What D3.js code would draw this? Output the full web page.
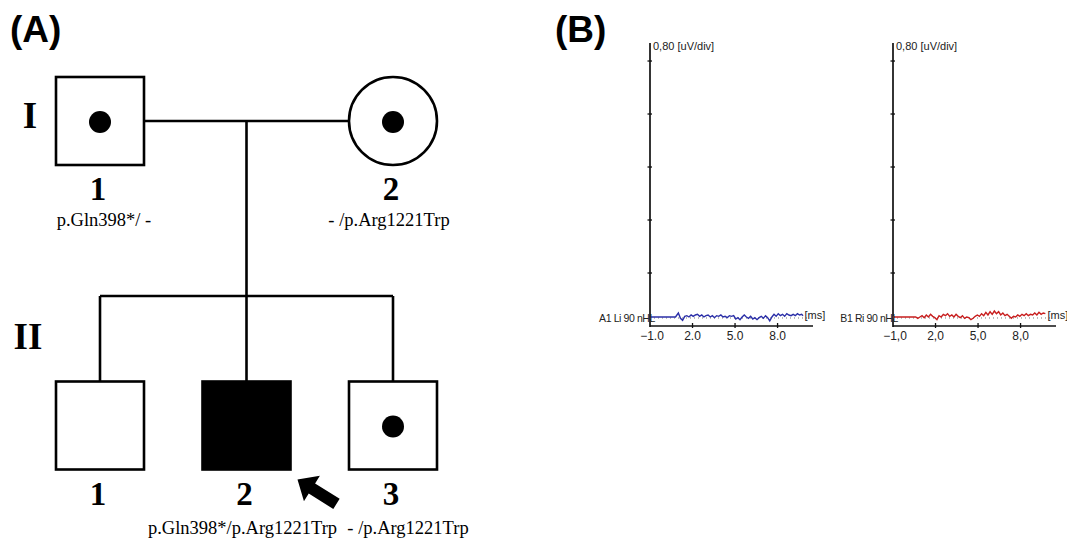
<!DOCTYPE html>
<html>
<head>
<meta charset="utf-8">
<script src="https://cdn.jsdelivr.net/npm/d3@7/dist/d3.min.js"></script>
<style>
  body { margin: 0; background: #fff; }
  svg { display: block; }
  .panel { font-family: "Liberation Sans", Arial, sans-serif; font-weight: bold; font-size: 37px; }
  .roman, .num { font-family: "Liberation Serif", "Times New Roman", serif; font-weight: bold; }
  .geno { font-family: "Liberation Serif", "Times New Roman", serif; font-size: 18.5px; }
  .abr { font-family: "Liberation Sans", Arial, sans-serif; font-size: 11px; fill: #222; }
  .abr.tk { font-size: 12px; }
  .abr.lb { font-size: 10.5px; letter-spacing: -0.4px; }
</style>
</head>
<body>
<div id="chart"></div>
<script>
// ---- pedigree (A) ----
const generations = ["I", "II"];
const personGen   = [0, 0, 1, 1, 1];
const personSlot  = [0, 2, 0, 1, 2];
const personSex   = ["M", "F", "M", "M", "M"];
const personState = ["carrier", "carrier", "normal", "affected", "carrier"];
const personNum   = ["1", "2", "1", "2", "3"];
const personGeno  = ["p.Gln398*/ -", "- /p.Arg1221Trp", "", "p.Gln398*/p.Arg1221Trp", "- /p.Arg1221Trp"];
const proband = 3;

// ---- ABR traces (B) ----
const uvPerDiv = 0.80;
const yTicks = [0.8, 1.6, 2.4, 3.2, 4.0];
const xTicks = [-1, 2, 5, 8];
const traceOffset = 0.136;

const leftLabel = "A1 Li 90 nHL";
const leftTime = [-1.0, 0.8, 1.0, 1.15, 1.3, 1.45, 1.6, 1.75, 1.9, 2.05, 2.2, 2.35, 2.5, 2.65, 2.8, 2.95,
  3.1, 3.25, 3.4, 3.55, 3.7, 3.85, 4.0, 4.15, 4.3, 4.45, 4.6, 4.75, 4.9, 5.05, 5.2, 5.35, 5.5, 5.65,
  5.8, 5.95, 6.1, 6.25, 6.4, 6.55, 6.7, 6.85, 7.0, 7.15, 7.3, 7.45, 7.6, 7.75, 7.9, 8.05, 8.2, 8.35,
  8.5, 8.65, 8.8, 8.95, 9.1, 9.25, 9.4, 9.55, 9.7, 9.8];
const leftUv = [0, 0, 0.06, -0.02, -0.05, 0.01, 0.02, 0.0, 0.03, 0.01, 0.03, 0.04, 0.01, 0.03, 0.0, 0.02,
  0.03, 0.0, 0.02, -0.01, 0.02, 0.01, 0.03, 0.0, 0.01, -0.01, 0.02, 0.01, 0.02, -0.03, -0.01, -0.04, 0.0, 0.03,
  0.0, -0.02, 0.01, -0.03, -0.01, -0.04, -0.01, 0.01, -0.02, 0.02, -0.01, -0.06, 0.0, 0.04, 0.01, 0.05, 0.02, 0.04,
  0.01, 0.05, 0.03, 0.02, 0.04, 0.02, 0.05, 0.03, 0.04, 0.02];

const rightLabel = "B1 Ri 90 nHL";
const rightTime = [-1.0, 0.6, 0.75, 0.9, 1.05, 1.2, 1.35, 1.5, 1.65, 1.8, 1.95, 2.1, 2.25, 2.4, 2.55, 2.7,
  2.85, 3.0, 3.15, 3.3, 3.45, 3.6, 3.75, 3.9, 4.05, 4.2, 4.35, 4.5, 4.65, 4.8, 4.95, 5.1, 5.25, 5.4,
  5.55, 5.7, 5.85, 6.0, 6.15, 6.3, 6.45, 6.6, 6.75, 6.9, 7.05, 7.2, 7.35, 7.5, 7.65, 7.8, 7.95, 8.1,
  8.25, 8.4, 8.55, 8.7, 8.85, 9.0, 9.15, 9.3, 9.45, 9.6, 9.75];
const rightUv = [0, 0, -0.02, 0.0, 0.02, -0.01, 0.03, 0.0, 0.04, 0.01, -0.01, -0.04, 0.02, 0.0, 0.04, 0.02,
  0.05, 0.01, 0.03, 0.0, 0.04, 0.01, -0.01, 0.02, -0.02, 0.0, -0.01, -0.04, -0.02, 0.01, 0.03, 0.01, 0.05, 0.02,
  0.07, 0.03, 0.08, 0.04, 0.09, 0.05, 0.08, 0.03, 0.06, 0.02, 0.04, 0.01, -0.02, 0.01, 0.0, 0.03, 0.01, 0.04,
  0.02, 0.05, 0.02, 0.04, 0.03, 0.06, 0.03, 0.07, 0.04, 0.06, 0.05];

const W = 1067, H = 538;
const svg = d3.select("#chart").append("svg").attr("width", W).attr("height", H);

// ---------- panel A ----------
const gA = svg.append("g");
gA.append("text").attr("class", "panel").attr("x", 10).attr("y", 42).text("(A)");

const slotX = d3.scaleLinear().domain([0, 2]).range([100, 393]);
const genY = d3.scaleOrdinal().domain([0, 1]).range([121, 425.5]);
const genLabelY = d3.scaleOrdinal().domain([0, 1]).range([128, 349]);
const side = 88, half = side / 2;
const lw = 2.6;

// marriage line, drop line, sibship line
const coupleY = genY(0);
const sibY = 296;
const midX = slotX(1);
const line = (x1, y1, x2, y2) => gA.append("line")
  .attr("x1", x1).attr("y1", y1).attr("x2", x2).attr("y2", y2)
  .attr("stroke", "#000").attr("stroke-width", lw);
line(slotX(0) + half, coupleY, slotX(2) - half, coupleY);
line(midX, coupleY, midX, sibY);
line(slotX(0), sibY, slotX(2), sibY);
personGen.forEach((g, i) => {
  if (g === 1) line(slotX(personSlot[i]), sibY, slotX(personSlot[i]), genY(1) - half);
});

generations.forEach((lab, i) => {
  gA.append("text").attr("class", "roman")
    .attr("x", i === 0 ? 30 : 28).attr("y", genLabelY(i))
    .attr("text-anchor", "middle").attr("font-size", 37).text(lab);
});

personGen.forEach((g, i) => {
  const cx = slotX(personSlot[i]), cy = genY(g);
  const fill = personState[i] === "affected" ? "#000" : "#fff";
  if (personSex[i] === "M") {
    gA.append("rect").attr("x", cx - half).attr("y", cy - half)
      .attr("width", side).attr("height", side)
      .attr("fill", fill).attr("stroke", "#000").attr("stroke-width", lw);
  } else {
    gA.append("circle").attr("cx", cx).attr("cy", cy).attr("r", half)
      .attr("fill", fill).attr("stroke", "#000").attr("stroke-width", lw);
  }
  if (personState[i] === "carrier") {
    gA.append("circle").attr("cx", cx).attr("cy", cy + 1).attr("r", 11).attr("fill", "#000");
  }
  gA.append("text").attr("class", "num")
    .attr("x", cx - 2).attr("y", cy + half + 35)
    .attr("text-anchor", "middle").attr("font-size", 33).text(personNum[i]);
  if (personGeno[i]) {
    gA.append("text").attr("class", "geno")
      .attr("x", g === 1 && personSlot[i] === 2 ? cx + 15 : (g === 0 && personSlot[i] === 0 ? cx + 4 : cx - 4))
      .attr("y", cy + half + (g === 0 ? 61 : 64))
      .attr("text-anchor", "middle").text(personGeno[i]);
  }
});

// proband arrow
{
  const cx = slotX(personSlot[proband]) + half, cy = genY(1) + half;
  const tip = [cx + 7, cy + 10];
  const ang = Math.atan2(23.5, 37.5) * 180 / Math.PI;
  const pts = [[0, 0], [17, -15], [17, -6], [46, -6], [46, 6], [17, 6], [17, 15]];
  gA.append("polygon")
    .attr("points", pts.map(p => p.join(",")).join(" "))
    .attr("transform", `translate(${tip[0]},${tip[1]}) rotate(${ang})`)
    .attr("fill", "#000");
}

// ---------- panel B ----------
svg.append("text").attr("class", "panel").attr("x", 555).attr("y", 42).text("(B)");

function abrPanel(x0, label, time, uv, color, fmt) {
  const g = svg.append("g");
  const x = d3.scaleLinear().domain([-1, 10.5]).range([x0, x0 + 163]);
  const y = d3.scaleLinear().domain([0, 5.34 * uvPerDiv]).range([326, 43]);
  const axisCol = "#111";

  g.append("line").attr("x1", x(-1)).attr("x2", x(-1)).attr("y1", y.range()[1]).attr("y2", y(0) + 1)
    .attr("stroke", axisCol).attr("stroke-width", 1.7);
  g.append("line").attr("x1", x(-1)).attr("x2", x(10.5)).attr("y1", y(0)).attr("y2", y(0))
    .attr("stroke", axisCol).attr("stroke-width", 1.4);
  g.selectAll(".yt").data(yTicks).enter().append("line")
    .attr("x1", x(-1) - 2.5).attr("x2", x(-1) + 2)
    .attr("y1", d => y(d)).attr("y2", d => y(d))
    .attr("stroke", axisCol).attr("stroke-width", 1.3);
  g.selectAll(".xt").data(xTicks.slice(1)).enter().append("line")
    .attr("x1", d => x(d)).attr("x2", d => x(d))
    .attr("y1", y(0) - 3).attr("y2", y(0) + 2)
    .attr("stroke", axisCol).attr("stroke-width", 1.3);
  g.selectAll(".xl").data(xTicks).enter().append("text").attr("class", "abr tk")
    .attr("x", d => x(d) + (d === -1 ? 2 : 0)).attr("y", 340)
    .attr("text-anchor", "middle").text(fmt);

  g.append("text").attr("class", "abr").attr("x", x(-1) + 3).attr("y", 50)
    .text(d3.format(".2f")(uvPerDiv).replace(".", ",") + " [uV/div]");

  // zero reference (dotted)
  g.append("line").attr("x1", x(-1)).attr("x2", x(10.3))
    .attr("y1", y(traceOffset) + 1).attr("y2", y(traceOffset) + 1)
    .attr("stroke", "#777").attr("stroke-width", 1).attr("stroke-dasharray", "1,3");

  const pts = time.map((t, i) => [t, uv[i]]);
  g.append("path").datum(pts)
    .attr("d", d3.line().x(d => x(d[0])).y(d => y(d[1] + traceOffset)))
    .attr("fill", "none").attr("stroke", color).attr("stroke-width", 1.4);

  g.append("text").attr("class", "abr lb").attr("x", x(-1) + 5).attr("y", 321.5)
    .attr("text-anchor", "end").text(label);
  g.append("text").attr("class", "abr").attr("x", x(9.9)).attr("y", 319).text("[ms]");
}

abrPanel(650, leftLabel, leftTime, leftUv, "#2b2fa8", d => d3.format(".1f")(d));
abrPanel(893, rightLabel, rightTime, rightUv, "#c81e1e", d => d3.format(".1f")(d).replace(".", ","));
</script>
</body>
</html>
